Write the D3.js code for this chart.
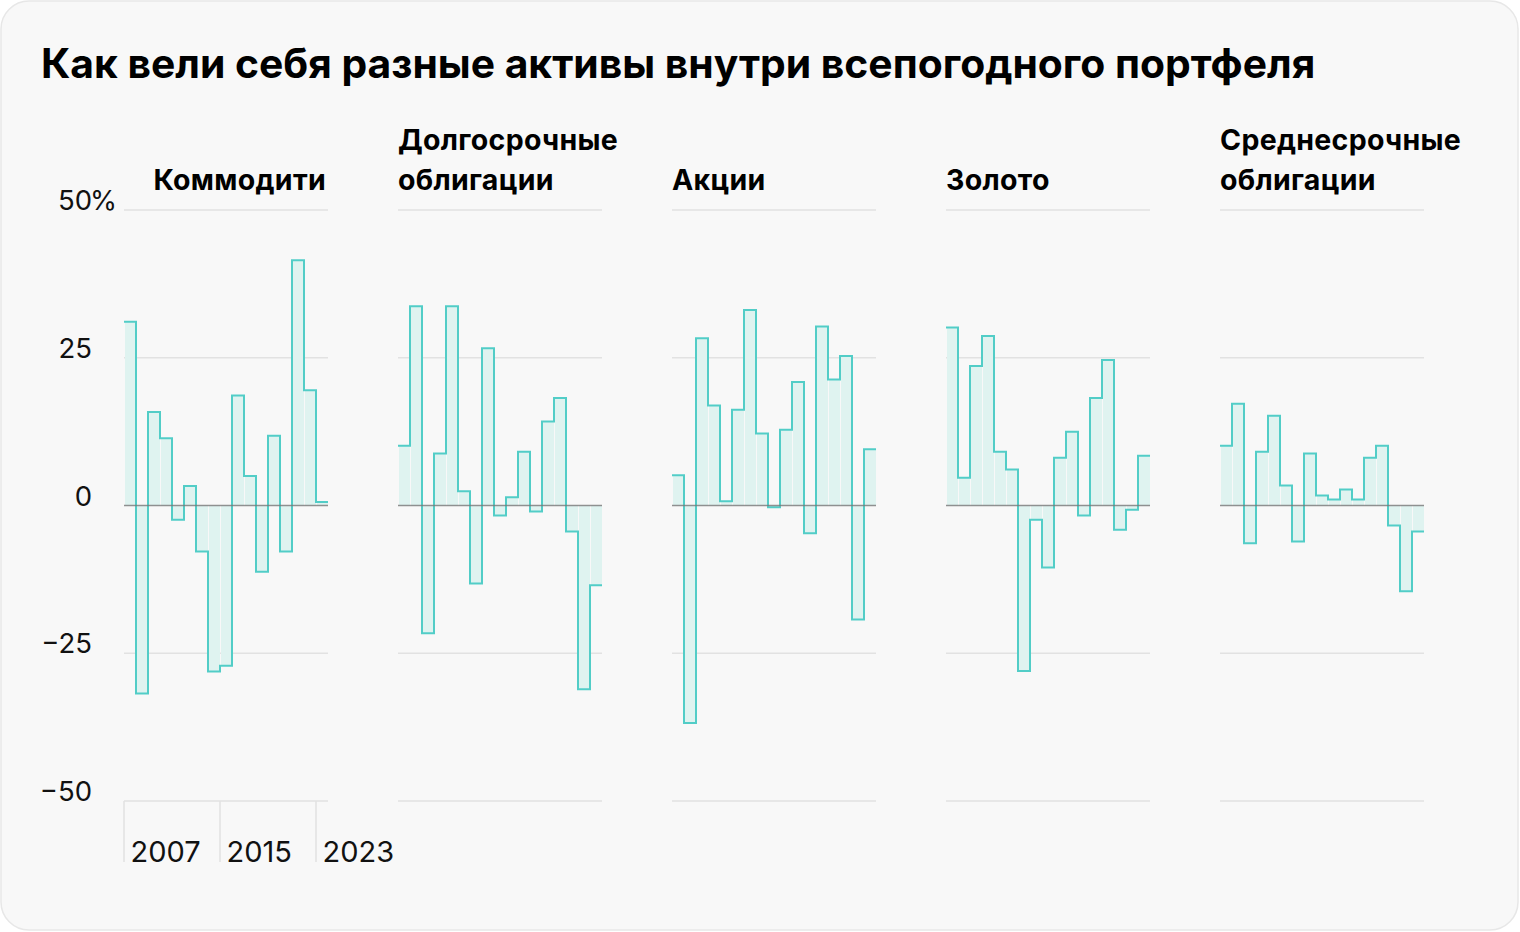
<!DOCTYPE html>
<html><head><meta charset="utf-8">
<script src="https://cdn.jsdelivr.net/npm/d3@7"></script>
<style>
html,body{margin:0;padding:0;background:#fff;}
svg{display:block;font-family:Inter,"Noto Sans",sans-serif;}
</style></head>
<body>
<svg id="c" width="1520" height="932"></svg>
<script>
const title = "Как вели себя разные активы внутри всепогодного портфеля";
const years = d3.range(2007, 2024);
const panelTitles = [["Коммодити"], ["Долгосрочные", "облигации"], ["Акции"], ["Золото"], ["Среднесрочные", "облигации"]];
const commodities = [31.1, -31.8, 15.8, 11.4, -2.4, 3.3, -7.8, -28.1, -27.1, 18.6, 5.0, -11.2, 11.8, -7.8, 41.5, 19.5, 0.6];
const longBonds   = [10.1, 33.7, -21.6, 8.8, 33.7, 2.4, -13.2, 26.6, -1.7, 1.4, 9.1, -1.0, 14.2, 18.2, -4.4, -31.1, -13.5];
const stocks      = [5.1, -36.8, 28.3, 16.9, 0.7, 16.2, 33.1, 12.2, -0.3, 12.8, 20.9, -4.7, 30.3, 21.3, 25.3, -19.3, 9.5];
const gold        = [30.1, 4.7, 23.6, 28.7, 9.1, 6.1, -28.0, -2.4, -10.5, 8.1, 12.5, -1.7, 18.2, 24.6, -4.1, -0.7, 8.4];
const midBonds    = [10.1, 17.2, -6.4, 9.1, 15.2, 3.4, -6.1, 8.8, 1.7, 1.0, 2.7, 1.0, 8.1, 10.1, -3.4, -14.5, -4.4];
const seriesList = [commodities, longBonds, stocks, gold, midBonds];
const yTicks = [50, 25, 0, -25, -50];
const yTickLabels = ["50", "25", "0", "−25", "−50"];
const xTicks = [2007, 2015, 2023];
const xTickLabels = ["2007", "2015", "2023"];

const svg = d3.select("#c");
const TEAL = "#52cdc7", FILL = "#dff3f0";

svg.append("rect").attr("x", 1).attr("y", 1).attr("width", 1517).attr("height", 929)
  .attr("rx", 28).attr("fill", "#f8f8f8").attr("stroke", "#e7e7e7").attr("stroke-width", 1.5);

svg.append("text").attr("x", 41).attr("y", 78).attr("font-size", 40.8).attr("font-weight", 700)
  .attr("fill", "#000").text(title);

const y = d3.scaleLinear().domain([-50, 50]).range([801, 210]);
const panelX0 = 124, panelGap = 274, step = 12;

// y labels
yTicks.forEach((t, i) => {
  svg.append("text").attr("x", 92).attr("y", y(t)).attr("text-anchor", "end")
    .attr("font-size", 27.5).attr("fill", "#111").text(yTickLabels[i]);
});
svg.append("text").attr("x", 90).attr("y", y(50)).attr("font-size", 27.5).attr("fill", "#111").text("%");

seriesList.forEach((vals, p) => {
  const left = panelX0 + p * panelGap;
  const x = d3.scaleLinear().domain([2007, 2024]).range([left, left + step * years.length]);
  const g = svg.append("g");
  const right = x(2024);
  // grid
  yTicks.filter(t => t !== 0).forEach(t => {
    g.append("line").attr("x1", left).attr("x2", right).attr("y1", y(t)).attr("y2", y(t))
      .attr("stroke", "#e2e2e2").attr("stroke-width", 1.5);
  });
  // x ticks (first panel only)
  if (p === 0) {
    xTicks.forEach((t, i) => {
      g.append("line").attr("x1", x(t)).attr("x2", x(t)).attr("y1", y(-50)).attr("y2", 862)
        .attr("stroke", "#e2e2e2").attr("stroke-width", 1.5);
      g.append("text").attr("x", x(t) + 6.5).attr("y", 862).attr("font-size", 29)
        .attr("fill", "#111").text(xTickLabels[i]);
    });
  }
  // bars
  g.selectAll("rect.b").data(years).join("rect").attr("class", "b")
    .attr("x", d => x(d) + 1).attr("width", step - 1)
    .attr("y", (d, i) => Math.min(y(vals[i]), y(0)))
    .attr("height", (d, i) => Math.abs(y(vals[i]) - y(0)))
    .attr("fill", FILL);
  // step line
  const pts = years.map((yr, i) => [x(yr), y(vals[i])]);
  pts.push([x(2024), y(vals[vals.length - 1])]);
  g.append("path").attr("d", d3.line().curve(d3.curveStepAfter)(pts))
    .attr("fill", "none").attr("stroke", TEAL).attr("stroke-width", 2);
  // zero line
  g.append("line").attr("x1", left).attr("x2", right).attr("y1", y(0)).attr("y2", y(0))
    .attr("stroke", "#777").attr("stroke-opacity", 0.8).attr("stroke-width", 1.5);
  // panel title
  const lines = panelTitles[p];
  lines.forEach((ln, j) => {
    const yy = 190 - (lines.length - 1 - j) * 40;
    g.append("text").attr("x", p === 0 ? right - 2 : left).attr("y", yy)
      .attr("text-anchor", p === 0 ? "end" : "start")
      .attr("font-size", 28.5).attr("letter-spacing", 0.3).attr("font-weight", 700).attr("fill", "#000").text(ln);
  });
});
</script>
</body></html>
